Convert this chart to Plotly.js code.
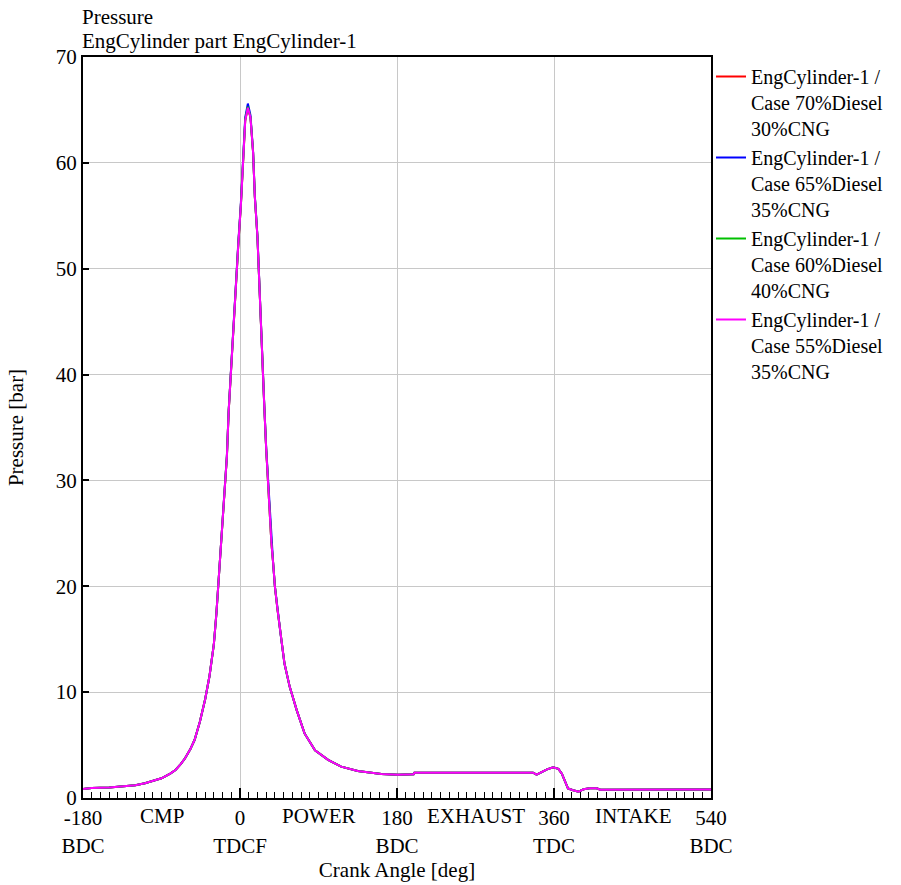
<!DOCTYPE html>
<html>
<head>
<meta charset="utf-8">
<script src="https://cdn.plot.ly/plotly-3.0.1.min.js"></script>
<style>html,body{margin:0;padding:0;background:#fff;}#chart{width:901px;height:885px;}</style>
</head>
<body>
<div id="chart"></div>
<script>
// Crank angle [deg]
const crankAngle = [-180,-170,-150,-134,-120,-109,-100,-90,-80,-74,-68,-63,-57,-52,-46,-40,-35,-30,-27,-23,-18,-15,-13,-10,-7,-5,-2,1,4,6,9,12,15,17,20,22,24,26,28,30,32,34,36,38,40,43,47,51,57,65,74,86,101,116,135,162,181,199,200,336,340,346,352,359,365,369,373,376,381,388,394,401,409,413,540];

// Pressure [bar] for each case
const p70 = [0.85,0.95,1.0,1.07,1.2,1.39,1.6,1.86,2.3,2.65,3.2,3.75,4.6,5.5,7.2,9.3,11.5,14.5,17.5,22.5,28.2,32.3,36.5,41.0,45.0,48.5,52.2,56.0,60.6,64.0,65.2,64.3,61.0,56.8,53.0,48.6,44.9,40.1,36.7,33.0,30.1,26.7,24.1,22.2,20.0,17.8,15.2,12.7,10.5,8.3,6.1,4.5,3.6,2.96,2.55,2.27,2.2,2.24,2.39,2.39,2.2,2.45,2.71,2.9,2.75,2.3,1.4,0.9,0.76,0.6,0.82,0.92,0.92,0.78,0.8];
const p65 = [0.85,0.95,1.0,1.07,1.2,1.39,1.6,1.86,2.3,2.65,3.2,3.75,4.6,5.5,7.2,9.3,11.5,14.5,17.5,22.5,28.3,32.4,36.6,41.1,45.1,48.6,52.4,56.2,60.9,64.3,65.6,64.5,61.1,56.9,53.1,48.7,45.0,40.2,36.8,33.1,30.2,26.8,24.2,22.2,20.0,17.8,15.2,12.7,10.5,8.3,6.1,4.5,3.6,2.96,2.55,2.27,2.2,2.24,2.39,2.39,2.2,2.45,2.71,2.9,2.75,2.3,1.4,0.9,0.76,0.6,0.82,0.92,0.92,0.78,0.8];
const p60 = [0.85,0.95,1.0,1.07,1.2,1.39,1.6,1.86,2.3,2.65,3.2,3.75,4.6,5.5,7.2,9.3,11.5,14.5,17.5,22.5,28.2,32.3,36.5,41.0,45.0,48.5,52.2,56.0,60.7,64.1,65.3,64.3,61.0,56.8,53.0,48.6,44.9,40.1,36.7,33.0,30.1,26.7,24.1,22.2,20.0,17.8,15.2,12.7,10.5,8.3,6.1,4.5,3.6,2.96,2.55,2.27,2.2,2.24,2.39,2.39,2.2,2.45,2.71,2.9,2.75,2.3,1.4,0.9,0.76,0.6,0.82,0.92,0.92,0.78,0.8];
const p55 = [0.85,0.95,1.0,1.07,1.2,1.39,1.6,1.86,2.3,2.65,3.2,3.75,4.6,5.5,7.2,9.3,11.5,14.5,17.5,22.5,28.2,32.3,36.5,41.0,45.0,48.5,52.2,56.0,60.6,64.0,65.2,64.3,61.0,56.8,53.0,48.6,44.9,40.1,36.7,33.0,30.1,26.7,24.1,22.2,20.0,17.8,15.2,12.7,10.5,8.3,6.1,4.5,3.6,2.96,2.55,2.27,2.2,2.24,2.39,2.39,2.2,2.45,2.71,2.9,2.75,2.3,1.4,0.9,0.76,0.6,0.82,0.92,0.92,0.78,0.8];

const seriesNames = [
  "EngCylinder-1 /<br>Case 70%Diesel<br>30%CNG",
  "EngCylinder-1 /<br>Case 65%Diesel<br>35%CNG",
  "EngCylinder-1 /<br>Case 60%Diesel<br>40%CNG",
  "EngCylinder-1 /<br>Case 55%Diesel<br>35%CNG"
];
const seriesColors = ["#ff0000", "#0000ff", "#00c000", "#ff00ff"];
const seriesValues = [p70, p65, p60, p55];

const xTickVals = [-180, 0, 180, 360, 540];
const xTickText = ["-180<br>BDC", "0<br>TDCF", "180<br>BDC", "360<br>TDC", "540<br>BDC"];
const phaseCenters = [-90, 90, 270, 450];
const phaseNames = ["CMP", "POWER", "EXHAUST", "INTAKE"];
const titleLines = ["Pressure", "EngCylinder part EngCylinder-1"];

const FONT = "Liberation Serif, Times New Roman, serif";
const FS = 21;

const traces = seriesValues.map((vals, i) => ({
  type: "scatter",
  mode: "lines",
  x: crankAngle,
  y: vals,
  name: seriesNames[i],
  line: {color: seriesColors[i], width: 2}
}));

const annotations = phaseNames.map((t, i) => ({
  text: t,
  x: phaseCenters[i],
  xref: "x",
  y: 0,
  yref: "paper",
  yanchor: "top",
  yshift: -4,
  showarrow: false,
  font: {family: FONT, size: FS, color: "#000"}
}));
titleLines.forEach((t, i) => {
  annotations.push({
    text: t,
    xref: "paper", x: 0, xanchor: "left", xshift: -3,
    yref: "paper", y: 1, yanchor: "bottom",
    yshift: i === 0 ? 26 : 2,
    showarrow: false,
    font: {family: FONT, size: FS, color: "#000"}
  });
});

const layout = {
  width: 901,
  height: 885,
  paper_bgcolor: "#ffffff",
  plot_bgcolor: "#ffffff",
  font: {family: FONT, size: FS, color: "#000"},
  margin: {l: 83, r: 190, t: 57, b: 87},
  xaxis: {
    range: [-180, 540],
    tickmode: "array",
    tickvals: xTickVals,
    ticktext: xTickText,
    ticks: "inside",
    ticklen: 10,
    tickwidth: 2,
    tickcolor: "#000",
    showgrid: true,
    gridcolor: "#c8c8c8",
    gridwidth: 1,
    zeroline: false,
    showline: true,
    linecolor: "#000",
    linewidth: 2,
    mirror: true,
    minor: {dtick: 10, tick0: -180, ticks: "inside", ticklen: 6, tickwidth: 1, tickcolor: "#000", showgrid: false},
    title: {text: "Crank Angle [deg]", font: {family: FONT, size: FS, color: "#000"}, standoff: 6},
    tickfont: {family: FONT, size: FS, color: "#000"}
  },
  yaxis: {
    range: [0, 70],
    dtick: 10,
    tick0: 0,
    ticks: "inside",
    ticklen: 6,
    tickwidth: 2,
    tickcolor: "#000",
    showgrid: true,
    gridcolor: "#c8c8c8",
    gridwidth: 1,
    zeroline: false,
    showline: true,
    linecolor: "#000",
    linewidth: 2,
    mirror: true,
    title: {text: "Pressure [bar]", font: {family: FONT, size: FS, color: "#000"}, standoff: 26},
    tickfont: {family: FONT, size: FS, color: "#000"}
  },
  legend: {
    x: 1.0, xanchor: "left", xref: "paper",
    y: 1.0, yanchor: "top", yref: "paper",
    bgcolor: "rgba(0,0,0,0)",
    borderwidth: 0,
    valign: "top",
    tracegroupgap: 0,
    font: {family: FONT, size: 20, color: "#000"}
  },
  showlegend: true,
  annotations: annotations
};

Plotly.newPlot("chart", traces, layout, {displayModeBar: false, staticPlot: true});
</script>
</body>
</html>
